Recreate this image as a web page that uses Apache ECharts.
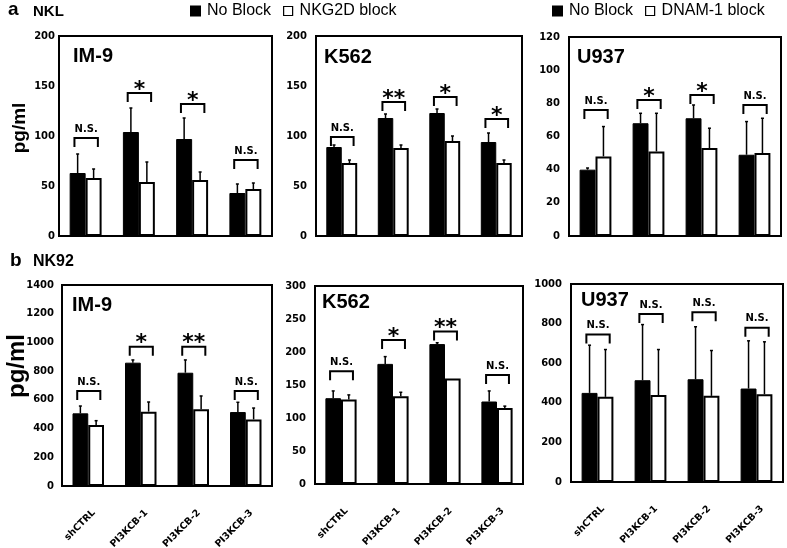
<!DOCTYPE html>
<html><head><meta charset="utf-8">
<script src="https://cdn.jsdelivr.net/npm/echarts@6/dist/echarts.min.js"></script>
<style>html,body{margin:0;padding:0;background:#fff}#c{width:787px;height:548px}</style>
</head><body><div id="c"></div>
<script>
// ---------- data ----------
const categories = ['shCTRL', 'PI3KCB-1', 'PI3KCB-2', 'PI3KCB-3'];

// a: NKL effector
const nklIm9NoBlock = [63, 104, 97, 43];
const nklIm9NoBlockErr = [19, 24, 21, 9];
const nklIm9Nkg2d = [58, 54, 56, 47];
const nklIm9Nkg2dErr = [9, 20, 8, 6];
const nklIm9Bracket = [98, 143, 132, 76];
const nklIm9Sig = ['N.S.', '*', '*', 'N.S.'];

const nklK562NoBlock = [89, 118, 123, 94];
const nklK562NoBlockErr = [2, 4, 4, 9];
const nklK562Nkg2d = [73, 88, 95, 73];
const nklK562Nkg2dErr = [3, 3, 5, 3];
const nklK562Bracket = [99, 134, 139, 117];
const nklK562Sig = ['N.S.', '**', '*', '*'];

const nklU937NoBlock = [40, 68, 71, 49];
const nklU937NoBlockErr = [1, 6, 8, 20];
const nklU937Dnam1 = [48, 51, 53, 50];
const nklU937Dnam1Err = [18, 23, 12, 21];
const nklU937Bracket = [76, 82, 85, 79];
const nklU937Sig = ['N.S.', '*', '*', 'N.S.'];

// b: NK92 effector
const nk92Im9NoBlock = [506, 859, 789, 515];
const nk92Im9NoBlockErr = [51, 19, 89, 68];
const nk92Im9Nkg2d = [425, 518, 534, 464];
const nk92Im9Nkg2dErr = [30, 67, 93, 79];
const nk92Im9Bracket = [662, 970, 970, 662];
const nk92Im9Sig = ['N.S.', '*', '**', 'N.S.'];

const nk92K562NoBlock = [130, 182, 212, 125];
const nk92K562NoBlockErr = [11, 11, 2, 16];
const nk92K562Nkg2d = [128, 133, 160, 115];
const nk92K562Nkg2dErr = [7, 6, 0, 3];
const nk92K562Bracket = [171, 218, 231, 165];
const nk92K562Sig = ['N.S.', '*', '**', 'N.S.'];

const nk92U937NoBlock = [450, 514, 519, 472];
const nk92U937NoBlockErr = [241, 281, 265, 241];
const nk92U937Dnam1 = [430, 439, 435, 443];
const nk92U937Dnam1Err = [239, 230, 229, 265];
const nk92U937Bracket = [745, 848, 857, 779];
const nk92U937Sig = ['N.S.', 'N.S.', 'N.S.', 'N.S.'];

const yMax = [200, 200, 120, 1400, 300, 1000];
const yStep = [50, 50, 20, 200, 50, 200];
const panelTitles = ['IM-9', 'K562', 'U937', 'IM-9', 'K562', 'U937'];

// ---------- layout ----------
const panels = [
  { grid: { left: 59, top: 36, width: 213, height: 200 }, nb: nklIm9NoBlock, nbE: nklIm9NoBlockErr, bl: nklIm9Nkg2d, blE: nklIm9Nkg2dErr, blName: 'NKG2D block', br: nklIm9Bracket, sig: nklIm9Sig, showX: false, title: [73, 56], lm: 4 },
  { grid: { left: 316, top: 36, width: 206, height: 200 }, nb: nklK562NoBlock, nbE: nklK562NoBlockErr, bl: nklK562Nkg2d, blE: nklK562Nkg2dErr, blName: 'NKG2D block', br: nklK562Bracket, sig: nklK562Sig, showX: false, title: [324, 57], lm: 9 },
  { grid: { left: 569, top: 37, width: 212, height: 199 }, nb: nklU937NoBlock, nbE: nklU937NoBlockErr, bl: nklU937Dnam1, blE: nklU937Dnam1Err, blName: 'DNAM-1 block', br: nklU937Bracket, sig: nklU937Sig, showX: false, title: [577, 57], lm: 9 },
  { grid: { left: 62, top: 285, width: 210, height: 201 }, nb: nk92Im9NoBlock, nbE: nk92Im9NoBlockErr, bl: nk92Im9Nkg2d, blE: nk92Im9Nkg2dErr, blName: 'NKG2D block', br: nk92Im9Bracket, sig: nk92Im9Sig, showX: true, title: [72, 305], lm: 8 },
  { grid: { left: 315, top: 286, width: 208, height: 198 }, nb: nk92K562NoBlock, nbE: nk92K562NoBlockErr, bl: nk92K562Nkg2d, blE: nk92K562Nkg2dErr, blName: 'NKG2D block', br: nk92K562Bracket, sig: nk92K562Sig, showX: true, title: [322, 302], lm: 9 },
  { grid: { left: 571, top: 284, width: 212, height: 198 }, nb: nk92U937NoBlock, nbE: nk92U937NoBlockErr, bl: nk92U937Dnam1, blE: nk92U937Dnam1Err, blName: 'DNAM-1 block', br: nk92U937Bracket, sig: nk92U937Sig, showX: true, title: [581, 300], lm: 9 }
];

const FONT = '"Liberation Sans", Arial, sans-serif';
const TICKFONT = '"DejaVu Sans", sans-serif';

function errRender(params, api) {
  const i = api.value(0);
  const v1 = api.value(1), e1 = api.value(2), v2 = api.value(3), e2 = api.value(4);
  const cw = api.size([1, 0])[0];
  const off = cw * 0.15;
  const a1 = api.coord([i, v1]), b1 = api.coord([i, v1 + e1]);
  const a2 = api.coord([i, v2]), b2 = api.coord([i, v2 + e2]);
  const x1 = a1[0] - off, x2 = a2[0] + off;
  const st = { stroke: '#000', lineWidth: 1.5, fill: 'none' };
  const ch = [];
  if (e1 > 0) {
    ch.push({ type: 'line', shape: { x1: x1, y1: a1[1], x2: x1, y2: b1[1] }, style: st });
    ch.push({ type: 'line', shape: { x1: x1 - 1.5, y1: b1[1], x2: x1 + 1.5, y2: b1[1] }, style: st });
  }
  if (e2 > 0) {
    ch.push({ type: 'line', shape: { x1: x2, y1: a2[1], x2: x2, y2: b2[1] }, style: st });
    ch.push({ type: 'line', shape: { x1: x2 - 1.5, y1: b2[1], x2: x2 + 1.5, y2: b2[1] }, style: st });
  }
  return { type: 'group', children: ch };
}

function makeBracketRender(sig) {
  return function (params, api) {
    const i = api.value(0), lvl = api.value(1);
    const cw = api.size([1, 0])[0];
    const p = api.coord([i, lvl]);
    const xl = p[0] - 0.21 * cw, xr = p[0] + 0.23 * cw;
    const leg = 9;
    const label = sig[params.dataIndex];
    const isStar = label.indexOf('*') === 0;
    const cx = (xl + xr) / 2;
    return {
      type: 'group', children: [
        { type: 'polyline', shape: { points: [[xl, p[1] + leg], [xl, p[1]], [xr, p[1]], [xr, p[1] + leg]] }, style: { stroke: '#000', lineWidth: 2, fill: 'none' } },
        isStar
          ? { type: 'text', style: { text: label, x: cx, y: p[1] - 3, align: 'center', verticalAlign: 'middle', font: 'bold 22px ' + TICKFONT, fill: '#000' } }
          : { type: 'text', style: { text: label, x: cx, y: p[1] - 4, align: 'center', verticalAlign: 'bottom', font: 'bold 10px ' + TICKFONT, fill: '#000' } }
      ]
    };
  };
}

const grids = [], xAxes = [], yAxes = [], series = [], graphics = [];
panels.forEach(function (pn, k) {
  grids.push(Object.assign({ show: true, borderColor: '#000', borderWidth: 2, backgroundColor: 'transparent', containLabel: false, outerBoundsMode: 'none' }, pn.grid));
  xAxes.push({
    type: 'category', gridIndex: k, data: categories,
    axisLine: { show: true, lineStyle: { color: '#000', width: 2 } },
    axisTick: { show: false },
    axisLabel: pn.showX ? { show: true, interval: 0, rotate: 45, margin: 31, padding: [0, -8, 0, 0], color: '#000', fontWeight: 'bold', fontSize: 9.5, fontFamily: TICKFONT } : { show: false }
  });
  yAxes.push({
    type: 'value', gridIndex: k, min: 0, max: yMax[k], interval: yStep[k],
    axisLine: { show: true, lineStyle: { color: '#000', width: 2 } },
    axisTick: { show: false },
    splitLine: { show: false },
    axisLabel: { color: '#000', fontWeight: 'bold', fontSize: 10, fontFamily: TICKFONT, margin: pn.lm, formatter: function (v) { return String(v); } }
  });
  series.push({ name: 'No Block', type: 'bar', xAxisIndex: k, yAxisIndex: k, data: pn.nb, barWidth: '30%', barGap: '0%', itemStyle: { color: '#000', borderColor: '#000', borderWidth: 1 }, silent: true });
  series.push({ name: pn.blName, type: 'bar', xAxisIndex: k, yAxisIndex: k, data: pn.bl, barWidth: '30%', barGap: '0%', itemStyle: { color: '#fff', borderColor: '#000', borderWidth: 2 }, silent: true });
  series.push({ type: 'custom', xAxisIndex: k, yAxisIndex: k, renderItem: errRender, z: 5, silent: true,
    data: categories.map(function (c, i) { return [i, pn.nb[i], pn.nbE[i], pn.bl[i], pn.blE[i]]; }) });
  series.push({ type: 'custom', xAxisIndex: k, yAxisIndex: k, renderItem: makeBracketRender(pn.sig), z: 6, silent: true,
    data: categories.map(function (c, i) { return [i, pn.br[i]]; }) });
  graphics.push({ type: 'text', x: pn.title[0], y: pn.title[1], style: { text: panelTitles[k], font: 'bold 20px ' + FONT, fill: '#000', align: 'left', verticalAlign: 'middle' } });
});

graphics.push({ type: 'text', x: 8, y: 10, style: { text: 'a', font: 'bold 19px ' + FONT, fill: '#000', verticalAlign: 'middle' } });
graphics.push({ type: 'text', x: 33, y: 12, style: { text: 'NKL', font: 'bold 15px ' + FONT, fill: '#000', verticalAlign: 'middle' } });
graphics.push({ type: 'text', x: 10, y: 261, style: { text: 'b', font: 'bold 19px ' + FONT, fill: '#000', verticalAlign: 'middle' } });
graphics.push({ type: 'text', x: 33, y: 262, style: { text: 'NK92', font: 'bold 16px ' + FONT, fill: '#000', verticalAlign: 'middle' } });
graphics.push({ type: 'text', x: 20, y: 128, rotation: Math.PI / 2, style: { text: 'pg/ml', font: 'bold 19px ' + FONT, fill: '#000', align: 'center', verticalAlign: 'middle' } });
graphics.push({ type: 'text', x: 17, y: 366, rotation: Math.PI / 2, style: { text: 'pg/ml', font: 'bold 24px ' + FONT, fill: '#000', align: 'center', verticalAlign: 'middle' } });

const legendCommon = {
  top: 3, padding: 0, itemWidth: 9, itemHeight: 9, itemGap: 12, selectedMode: false, icon: 'rect',
  textStyle: { fontSize: 16, fontFamily: FONT, color: '#000', padding: [0, 0, 0, 2] }
};
const legends = [
  Object.assign({}, legendCommon, { left: 190, data: [{ name: 'No Block', itemStyle: { color: '#000' } }, { name: 'NKG2D block', itemStyle: { color: '#fff', borderColor: '#000', borderWidth: 1.2 } }] }),
  Object.assign({}, legendCommon, { left: 552, data: [{ name: 'No Block', itemStyle: { color: '#000' } }, { name: 'DNAM-1 block', itemStyle: { color: '#fff', borderColor: '#000', borderWidth: 1.2 } }] })
];

const chart = echarts.init(document.getElementById('c'), null, { renderer: 'canvas' });
chart.setOption({
  backgroundColor: '#fff',
  animation: false,
  legend: legends,
  grid: grids,
  xAxis: xAxes,
  yAxis: yAxes,
  series: series,
  graphic: graphics
});
</script></body></html>
